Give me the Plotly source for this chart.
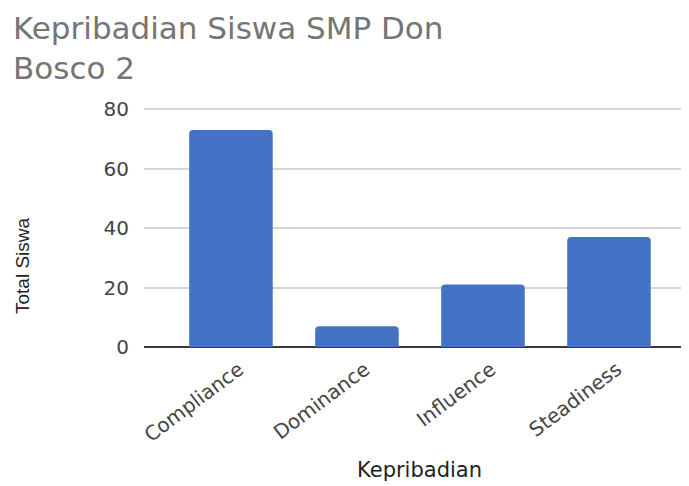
import plotly.graph_objects as go

categories = ["Compliance", "Dominance", "Influence", "Steadiness"]
values = [73, 7, 21, 37]
y_ticks = [0, 20, 40, 60, 80]
title_text = "Kepribadian Siswa SMP Don<br>Bosco 2"
x_title = "Kepribadian"
y_title = "Total Siswa"

OFF = 8  # default page body margin
W, H = 689 - OFF, 486 - OFF
L, R, T, B = 144 - OFF, 0, 100, 486 - 347
plot_h = H - T - B
plot_w = W - L - R

def py(p):
    # p in page pixels
    return (H - B - (p - OFF)) / plot_h

def px(p):
    return (p - OFF - L) / plot_w

fig = go.Figure()
fig.add_trace(go.Bar(
    x=categories, y=values,
    marker=dict(color="#4472C4", cornerradius=4, line=dict(width=0)),
    hoverinfo="x+y",
))

fig.update_layout(
    width=W, height=H,
    margin=dict(l=L, r=R, t=T, b=B, pad=0, autoexpand=False),
    paper_bgcolor="white", plot_bgcolor="white",
    showlegend=False,
    bargap=0.337,
    font=dict(family="DejaVu Sans", color="#444444"),
)
fig.update_xaxes(
    type="category", range=[-0.69, 3.635],
    tickangle=-37, tickfont=dict(size=20, color="#444444", family="DejaVu Sans"),
    ticklabelstandoff=6, ticklabelshift=8,
    showgrid=False, showline=False, ticks="",
)
fig.update_yaxes(
    range=[0, 80.4], tickvals=y_ticks,
    tickfont=dict(size=20, color="#444444", family="DejaVu Sans"),
    showgrid=True, gridcolor="#d6d6d6", gridwidth=1.5,
    zeroline=True, zerolinecolor="#3a3a3a", zerolinewidth=2,
    ticklabelstandoff=14, ticks="",
)

ann = []
ann.append(dict(text=title_text, xref="paper", yref="paper", x=px(11), y=py(48),
                xanchor="left", yanchor="middle", align="left", showarrow=False,
                font=dict(size=31, color="#757575", family="DejaVu Sans")))
ann.append(dict(text=x_title, xref="x", yref="paper", x=1.5, y=py(470),
                xanchor="center", yanchor="middle", showarrow=False,
                font=dict(size=21, color="#222222", family="DejaVu Sans")))
ann.append(dict(text=y_title, xref="paper", yref="paper", x=px(22), y=py(266),
                xanchor="center", yanchor="middle", showarrow=False, textangle=-90,
                font=dict(size=19, color="#222222", family="Liberation Sans Narrow, Liberation Sans")))
fig.update_layout(annotations=ann)

fig.write_html("out.html")
